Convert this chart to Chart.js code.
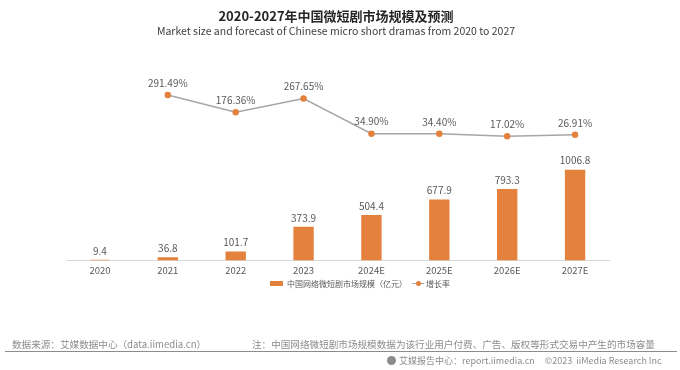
<!DOCTYPE html>
<html>
<head>
<meta charset="utf-8">
<script src="https://cdn.jsdelivr.net/npm/chart.js@4.4.1/dist/chart.umd.min.js"></script>
<style>
  body { margin: 0; background: #fff; font-family: "Noto Sans CJK SC", "Noto Sans", sans-serif; }
  #wrap { position: relative; width: 680px; height: 370px; overflow: hidden; }
  #chart { position: absolute; left: 0; top: 0; }
  .txt { position: absolute; white-space: nowrap; }
  #title { top: 6px; left: 0; width: 672px; text-align: center; font-size: 13px; font-weight: bold; color: #262626; }
  #subtitle { top: 23px; left: 0; width: 672px; text-align: center; font-size: 10.5px; color: #404040; }
  .foot { font-size: 9.6px; color: #8c8c8c; }
  #rule { position: absolute; left: 5px; top: 351px; width: 672px; height: 1px; background: #8c8c8c; }
  .logo { display: inline-block; width: 9px; height: 9px; border-radius: 50%; background: #8c8c8c; vertical-align: -1px; margin-right: 3px; }
  #legend { position: absolute; left: 270px; top: 277px; font-size: 8px; color: #595959; white-space: nowrap; }
  #legend span { display: inline-block; vertical-align: middle; }
  .swatch { width: 13px; height: 5px; margin-right: 4px; }
  .lineswatch { position: relative; width: 12px; height: 8px; margin: 0 2px 0 5px; }
</style>
</head>
<body>
<div id="wrap">
  <canvas id="chart" width="680" height="370"></canvas>
  <div class="txt" id="title">2020-2027年中国微短剧市场规模及预测</div>
  <div class="txt" id="subtitle">Market size and forecast of Chinese micro short dramas from 2020 to 2027</div>
  <div id="legend"></div>
  <div class="txt foot" style="left:12px; top:337px;">数据来源：艾媒数据中心（data.iimedia.cn）</div>
  <div class="txt foot" style="left:252px; top:337px;">注：中国网络微短剧市场规模数据为该行业用户付费、广告、版权等形式交易中产生的市场容量</div>
  <div id="rule"></div>
  <div class="txt foot" style="left:387px; top:354px; font-size:9px;"><span class="logo"></span>艾媒报告中心：report.iimedia.cn&nbsp;&nbsp;&nbsp;&nbsp;&nbsp;©2023&nbsp;&nbsp;iiMedia Research Inc</div>
</div>
<script>
// Data
const years = ['2020', '2021', '2022', '2023', '2024E', '2025E', '2026E', '2027E'];
const marketSize = [9.4, 36.8, 101.7, 373.9, 504.4, 677.9, 793.3, 1006.8];
const growthRate = [null, 291.49, 176.36, 267.65, 34.90, 34.40, 17.02, 26.91];
const seriesNames = ['中国网络微短剧市场规模（亿元）', '增长率'];

const barColor = '#e4813c';
const lineColor = '#a6a6a6';
const labelColor = '#595959';

// Value labels above bars and points
const valueLabels = {
    id: 'valueLabels',
    afterDatasetsDraw(chart) {
        const ctx = chart.ctx;
        ctx.save();
        ctx.fillStyle = labelColor;
        ctx.font = '10px "Noto Sans CJK SC", sans-serif';
        ctx.textAlign = 'center';
        ctx.textBaseline = 'bottom';
        chart.data.datasets.forEach((ds, i) => {
            const meta = chart.getDatasetMeta(i);
            meta.data.forEach((el, j) => {
                const v = ds.data[j];
                if (v === null) return;
                if (ds.type === 'line') {
                    ctx.fillText(v.toFixed(2) + '%', el.x, el.y - 7);
                } else {
                    ctx.fillText(v.toFixed(1), el.x, el.y - 4);
                }
            });
        });
        ctx.restore();
    }
};

const chart = new Chart(document.getElementById('chart'), {
    type: 'bar',
    data: {
        labels: years,
        datasets: [
            {
                type: 'bar',
                label: seriesNames[0],
                data: marketSize,
                backgroundColor: barColor,
                borderWidth: 0,
                categoryPercentage: 0.6,
                barPercentage: 0.5,
                yAxisID: 'y'
            },
            {
                type: 'line',
                label: seriesNames[1],
                data: growthRate,
                borderColor: lineColor,
                borderWidth: 1.5,
                pointBackgroundColor: barColor,
                pointBorderColor: barColor,
                pointRadius: 2.5,
                tension: 0,
                yAxisID: 'y1'
            }
        ]
    },
    options: {
        responsive: false,
        animation: false,
        layout: {
            padding: { top: 80, left: 66, right: 71, bottom: 90 }
        },
        scales: {
            x: {
                grid: { display: false, drawTicks: false },
                border: { display: true, color: '#d9d9d9' },
                ticks: {
                    color: labelColor,
                    font: { size: 9.5, family: '"Noto Sans CJK SC", sans-serif' },
                    padding: 4
                }
            },
            y: { display: false, min: 0, max: 2000 },
            y1: { display: false, min: -808, max: 391 }
        },
        plugins: {
            legend: { display: false },
            tooltip: { enabled: false }
        }
    },
    plugins: [valueLabels]
});

// Legend built from the chart's datasets
const legendEl = document.getElementById('legend');
chart.data.datasets.forEach(ds => {
    if (ds.type === 'bar') {
        legendEl.innerHTML += '<span class="swatch" style="background:' + ds.backgroundColor + '"></span>' +
            '<span>' + ds.label + '</span>';
    } else {
        legendEl.innerHTML += '<span class="lineswatch">' +
            '<i style="position:absolute;left:0;top:3px;width:12px;height:1.5px;background:' + ds.borderColor + '"></i>' +
            '<i style="position:absolute;left:3.5px;top:1.5px;width:5px;height:5px;border-radius:50%;background:' + ds.pointBackgroundColor + '"></i>' +
            '</span><span>' + ds.label + '</span>';
    }
});
</script>
</body>
</html>
